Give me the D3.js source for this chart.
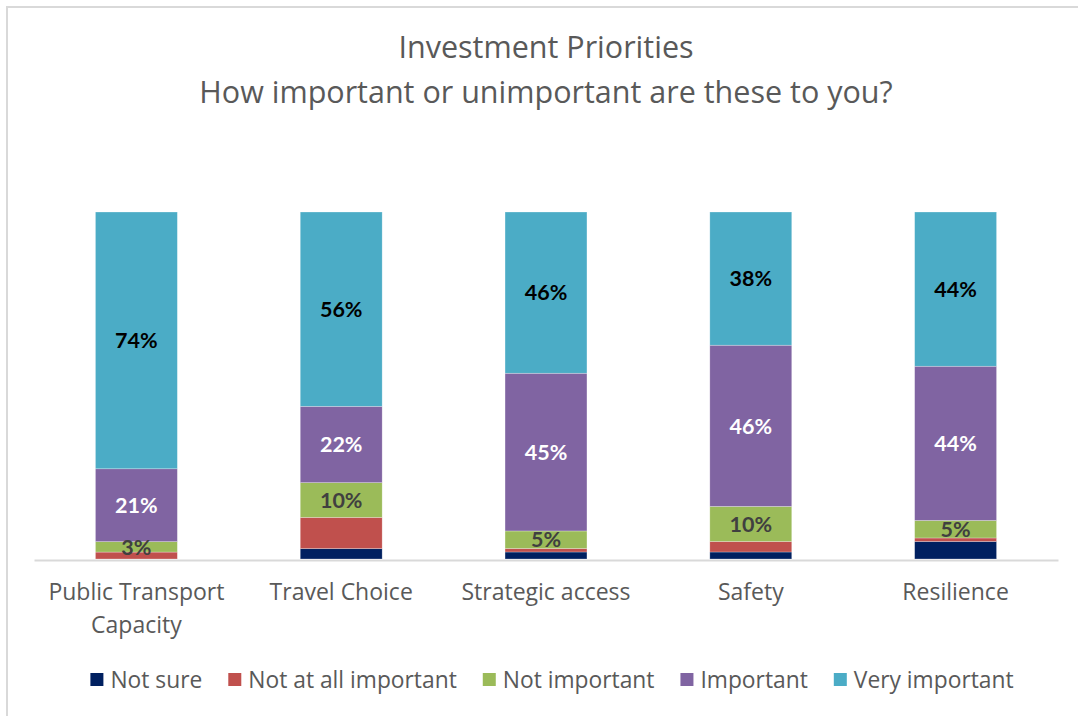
<!DOCTYPE html>
<html>
<head>
<meta charset="utf-8">
<script src="https://cdn.jsdelivr.net/npm/d3@7"></script>
<style>
  html, body { margin: 0; padding: 0; background: #fff; }
  svg { display: block; }
  text { font-family: "Open Sans", Lato, sans-serif; }
  .val { font-family: Lato, "Open Sans", sans-serif; }
</style>
</head>
<body>
<svg id="chart" width="1078" height="716"></svg>
<script>
// Survey answers, percent of respondents per priority
const categories = [["Public Transport", "Capacity"], ["Travel Choice"], ["Strategic access"], ["Safety"], ["Resilience"]];
const seriesNames = ["Not sure", "Not at all important", "Not important", "Important", "Very important"];
const notSure           = [0, 3, 2, 2, 5];
const notAtAllImportant = [2, 9, 1, 3, 1];
const notImportant      = [3, 10, 5, 10, 5];
const important         = [21, 22, 45, 46, 44];
const veryImportant     = [74, 56, 46, 38, 44];
const colors = ["#002060", "#C0504D", "#9BBB59", "#8064A2", "#4BACC6"];
const labelColors = [null, null, "#404040", "#ffffff", "#000000"];
const titleLines = ["Investment Priorities", "How important or unimportant are these to you?"];

const allSeries = [notSure, notAtAllImportant, notImportant, important, veryImportant];
const rows = categories.map((c, i) => {
  const r = { key: c.join(" ") };
  seriesNames.forEach((s, j) => { r[s] = allSeries[j][i]; });
  return r;
});

const svg = d3.select("#chart");
const W = 1078, H = 716;
const plot = { left: 34, right: 1058, top: 212, bottom: 559 };

// chart frame
svg.append("rect")
  .attr("x", 7).attr("y", 7).attr("width", W + 20).attr("height", H + 20)
  .attr("fill", "#fff").attr("stroke", "#d9d9d9").attr("stroke-width", 2);

// title
svg.append("g").selectAll("text").data(titleLines).join("text")
  .attr("x", 546).attr("y", (d, i) => 58 + i * 45)
  .attr("text-anchor", "middle")
  .attr("font-size", 30.5).attr("font-weight", 400)
  .attr("fill", "#595959")
  .text(d => d);

const x = d3.scaleBand().domain(rows.map(r => r.key))
  .range([plot.left, plot.right]).paddingInner(0.6).paddingOuter(0.3);
const y = d3.scaleLinear().domain([0, 1]).range([plot.bottom, plot.top]);

const stack = d3.stack().keys(seriesNames).offset(d3.stackOffsetExpand);
const layers = stack(rows);

const g = svg.append("g");
layers.forEach((layer, li) => {
  g.append("g").selectAll("rect").data(layer).join("rect")
    .attr("x", d => x(d.data.key))
    .attr("width", x.bandwidth())
    .attr("y", d => y(d[1]))
    .attr("height", d => y(d[0]) - y(d[1]))
    .attr("fill", colors[li])
    .attr("stroke", "#ffffff").attr("stroke-opacity", 0.45).attr("stroke-width", 0.6);
});

// axis baseline
const axis = d3.axisBottom(x).tickSize(0).tickFormat("");
const ax = svg.append("g").attr("transform", `translate(0,${plot.bottom + 1})`).call(axis);
ax.select(".domain").attr("stroke", "#d9d9d9").attr("stroke-width", 2);

// category labels
const catG = svg.append("g");
rows.forEach((r, i) => {
  const cx = x(r.key) + x.bandwidth() / 2;
  const t = catG.append("text")
    .attr("x", cx).attr("y", 600)
    .attr("text-anchor", "middle")
    .attr("font-size", 23)
    .attr("fill", "#595959");
  categories[i].forEach((line, k) => {
    t.append("tspan").attr("x", cx).attr("dy", k === 0 ? 0 : 33).text(line);
  });
});

// data labels
layers.forEach((layer, li) => {
  if (!labelColors[li]) return;
  svg.append("g").selectAll("text").data(layer).join("text")
    .attr("class", "val")
    .attr("x", d => x(d.data.key) + x.bandwidth() / 2)
    .attr("y", d => (y(d[0]) + y(d[1])) / 2)
    .attr("dy", "0.36em")
    .attr("text-anchor", "middle")
    .attr("font-size", 21.5).attr("font-weight", 700)
    .attr("fill", labelColors[li])
    .text(d => d.data[seriesNames[li]] + "%");
});

// legend
const leg = svg.append("g");
let lx = 0;
seriesNames.forEach((s, i) => {
  const item = leg.append("g");
  item.append("rect").attr("x", 0).attr("y", -7).attr("width", 13).attr("height", 13).attr("fill", colors[i]);
  const t = item.append("text").attr("x", 20).attr("y", 0).attr("dy", "0.35em")
    .attr("font-size", 22.8).attr("fill", "#595959").text(s);
  const w = 20 + t.node().getComputedTextLength();
  item.attr("transform", `translate(${lx},0)`);
  lx += w + 26;
});
const legW = lx - 26;
leg.attr("transform", `translate(${552 - legW / 2},680)`);
</script>
</body>
</html>
